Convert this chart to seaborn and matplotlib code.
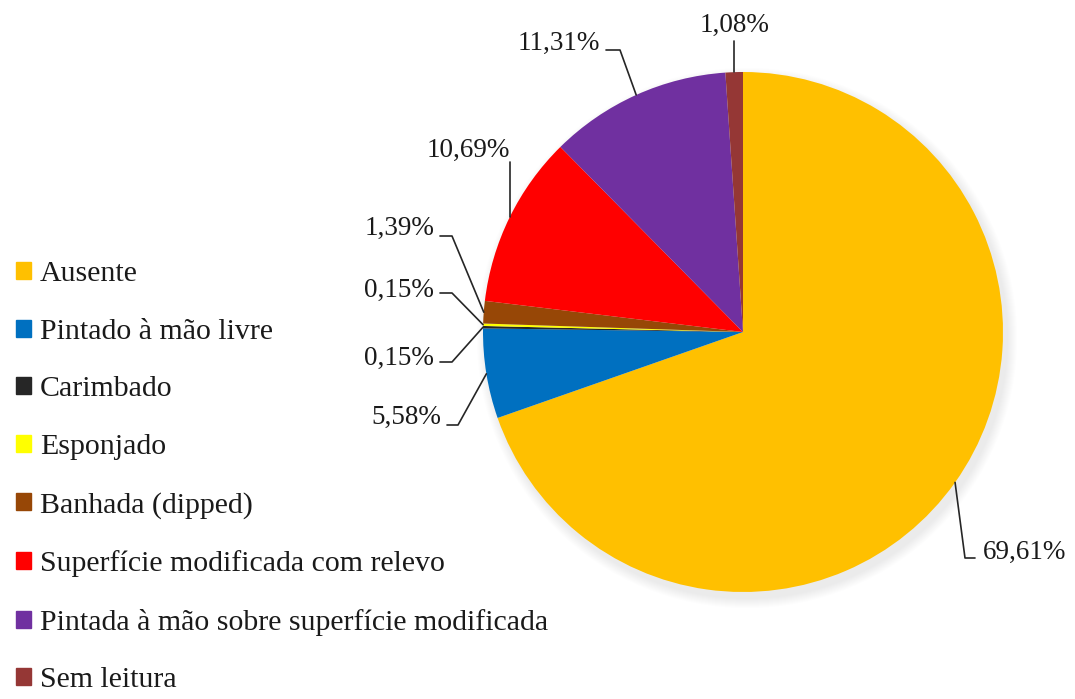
import numpy as np
import matplotlib
matplotlib.use("Agg")
import matplotlib.pyplot as plt
import matplotlib.patches as mpatches
import seaborn as sns

# -------------------------------
# Data
# -------------------------------
categories = [
    "Ausente",
    "Pintado à mão livre",
    "Carimbado",
    "Esponjado",
    "Banhada (dipped)",
    "Superfície modificada com relevo",
    "Pintada à mão sobre superfície modificada",
    "Sem leitura",
]
percentages = [69.61, 5.58, 0.15, 0.15, 1.39, 10.69, 11.31, 1.08]
pct_labels = ["69,61%", "5,58%", "0,15%", "0,15%", "1,39%", "10,69%", "11,31%", "1,08%"]

colors = ["#FFC000", "#0070C0", "#262626", "#FFFF00",
          "#974706", "#FF0000", "#7030A0", "#953735"]

# -------------------------------
# Layout (pixel space, y up)
# -------------------------------
W, H = 1075, 699
center = (743, H - 332)
radius = 260

# text anchor, ha, elbow point for each label
label_layout = [
    ((983, H - 552), "left", (965, H - 558)),
    ((441, H - 417), "right", (458, H - 425)),
    ((434, H - 358), "right", (452, H - 362)),
    ((434, H - 290), "right", (452, H - 293)),
    ((434, H - 228), "right", (452, H - 236)),
    ((510, H - 150), "right", None),
    ((600, H - 43), "right", (620, H - 50)),
    ((735, H - 25), "center", None),
]

sns.set_theme(style="white")
plt.rcParams["font.family"] = ["Liberation Serif", "DejaVu Serif"]

fig = plt.figure(figsize=(W / 100, H / 100), dpi=100)
ax = fig.add_axes([0, 0, 1, 1])

# soft shadow behind the pie
for i in range(10):
    ax.add_patch(mpatches.Circle((center[0] + 4, center[1] - 6), radius + 10 - i,
                                 color="#a8a8b8", alpha=0.02, lw=0, zorder=0))

wedges, _ = ax.pie(percentages, colors=colors, startangle=90, counterclock=False,
                   center=center, radius=radius, wedgeprops=dict(linewidth=0))
for w in wedges:
    w.set_zorder(2)

ax.set_xlim(0, W)
ax.set_ylim(0, H)
ax.set_aspect("equal")
ax.axis("off")

# -------------------------------
# Percent labels with leader lines
# -------------------------------
for w, txt, (pos, ha, elbow) in zip(wedges, pct_labels, label_layout):
    ang = np.deg2rad((w.theta1 + w.theta2) / 2)
    px = center[0] + radius * np.cos(ang)
    py = center[1] + radius * np.sin(ang)
    ax.text(pos[0], pos[1], txt, ha=ha, va="center", fontsize=19.5, color="#1a1a1a", zorder=5)
    if elbow is None:
        # straight vertical leader
        if ha == "center":
            pts = [(px, py), (px, pos[1] - 16)]
        else:
            pts = [(px, py), (px, pos[1] - 12)]
    elif ha == "left":
        pts = [(px, py), elbow, (pos[0] - 8, elbow[1])]
    else:
        pts = [(pos[0] + 6, elbow[1]), elbow, (px, py)]
    xs, ys = zip(*pts)
    ax.plot(xs, ys, color="#262626", lw=1.2, zorder=4)

# -------------------------------
# Legend
# -------------------------------
handles = [mpatches.Patch(color=c, label=l) for c, l in zip(colors, categories)]
leg = fig.legend(handles=handles, loc="upper left", bbox_to_anchor=(10 / W, 1 - 255 / H),
                 frameon=False, fontsize=21.5, handlelength=0.5, handleheight=0.5,
                 handletextpad=0.3, labelspacing=1.06, borderaxespad=0, borderpad=0.2)
for t in leg.get_texts():
    t.set_color("#1a1a1a")

plt.savefig("out.png", dpi=100)
